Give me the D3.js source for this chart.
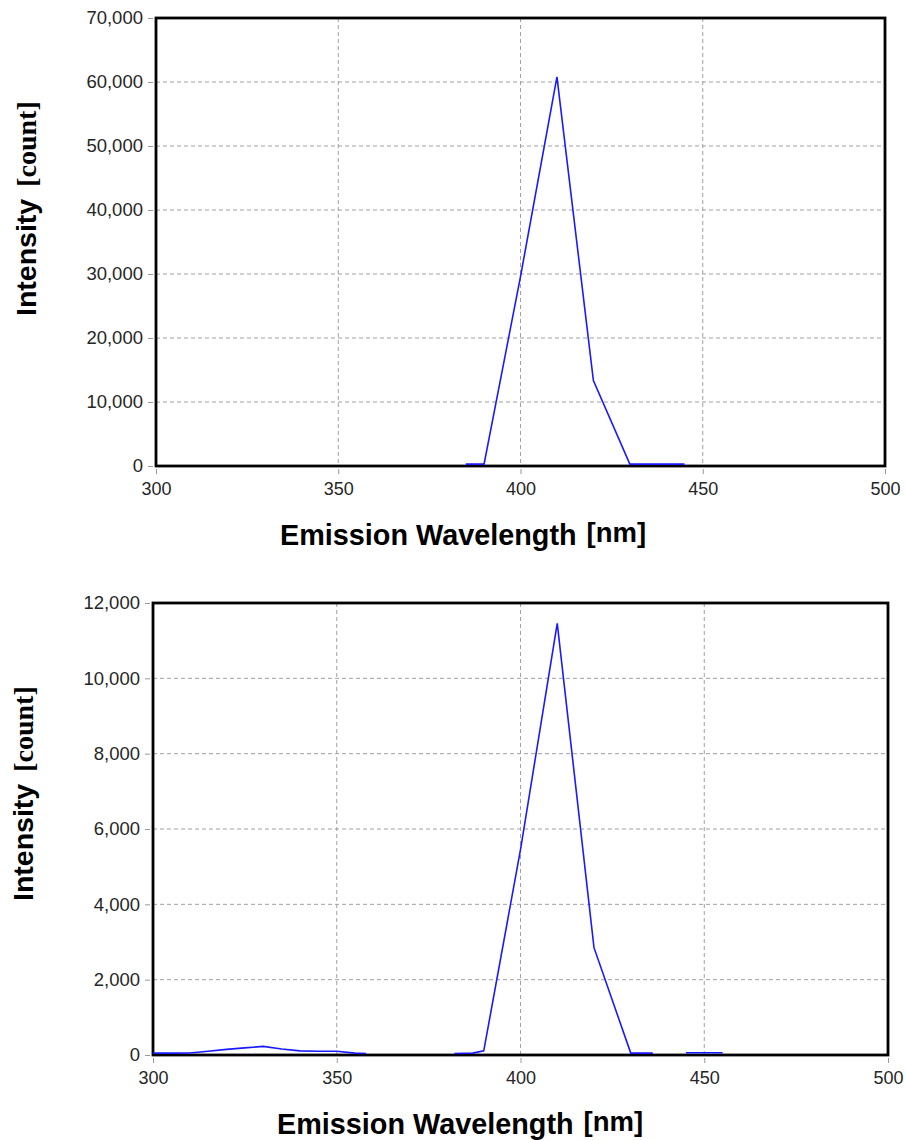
<!DOCTYPE html>
<html>
<head>
<meta charset="utf-8">
<script src="https://cdn.jsdelivr.net/npm/d3@7"></script>
<style>
  body { margin: 0; background: #fff; }
  svg { display: block; }
</style>
</head>
<body>
<div id="chart"></div>
<script>
/* Datos de los dos espectros de emision */

// espectro superior
var wavelengthTop = [385, 390, 400, 410, 420, 430, 445];
var intensityTop  = [300, 300, 29600, 60800, 13350, 300, 300];

// espectro inferior (null = hueco, no hay datos)
var wavelengthBottom = [300, 305, 310, 315, 320, 325, 330, 335, 340, 345, 350, 355, 358,
                        null,
                        382, 387, 390, 400, 410, 420, 430, 436,
                        null,
                        445, 455];
var intensityBottom  = [50, 50, 55, 100, 150, 190, 230, 160, 110, 100, 100, 50, 40,
                        null,
                        40, 50, 110, 5450, 11460, 2850, 50, 50,
                        null,
                        60, 60];

// ejes
var xTicks = [300, 350, 400, 450, 500];
var yTicksTop = [0, 10000, 20000, 30000, 40000, 50000, 60000, 70000];
var yTicksBottom = [0, 2000, 4000, 6000, 8000, 10000, 12000];

var xTitle = "Emission Wavelength";
var xUnit = "[nm]";
var yTitle = "Intensity";
var yUnit = "[count]";

var svg = d3.select("#chart").append("svg")
    .attr("width", 906)
    .attr("height", 1140);

svg.append("rect").attr("width", 906).attr("height", 1140).attr("fill", "#fff");

// convierte arrays en puntos (con huecos)
function toPoints(xs, ys) {
    return xs.map(function(x, i) {
        return x === null ? null : { x: x, y: ys[i] };
    });
}

function graficaEspectro(points, yTicks, box) {
    var g = svg.append("g");

    var x = d3.scaleLinear()
        .domain([xTicks[0], xTicks[xTicks.length - 1]])
        .range([box.left, box.right]);
    var y = d3.scaleLinear()
        .domain([yTicks[0], yTicks[yTicks.length - 1]])
        .range([box.bottom, box.top]);

    // rejilla punteada
    g.selectAll(".gridx")
        .data(xTicks.slice(1, -1))
        .enter().append("line")
        .attr("x1", function(d) { return x(d); })
        .attr("x2", function(d) { return x(d); })
        .attr("y1", box.top)
        .attr("y2", box.bottom)
        .attr("stroke", "#a0a0a0")
        .attr("stroke-width", 1)
        .attr("stroke-dasharray", "4,3");

    g.selectAll(".gridy")
        .data(yTicks.slice(1, -1))
        .enter().append("line")
        .attr("x1", box.left)
        .attr("x2", box.right)
        .attr("y1", function(d) { return y(d); })
        .attr("y2", function(d) { return y(d); })
        .attr("stroke", "#a0a0a0")
        .attr("stroke-width", 1)
        .attr("stroke-dasharray", "4,3");

    // eje y
    var yAxis = g.append("g")
        .attr("transform", "translate(" + (box.left - 3) + ",0)")
        .call(d3.axisLeft(y).tickValues(yTicks).tickFormat(d3.format(",")).tickSize(5).tickPadding(5));
    yAxis.select(".domain").remove();
    yAxis.selectAll(".tick line").attr("stroke", "#999");
    yAxis.selectAll("text")
        .attr("fill", "#262626")
        .style("font-family", "'Liberation Sans', Arial, sans-serif")
        .style("font-size", "18.5px");

    // eje x
    var xAxis = g.append("g")
        .attr("transform", "translate(0," + (box.bottom + 3) + ")")
        .call(d3.axisBottom(x).tickValues(xTicks).tickSize(5).tickPadding(8));
    xAxis.select(".domain").remove();
    xAxis.selectAll(".tick line").attr("stroke", "#999");
    xAxis.selectAll("text")
        .attr("fill", "#262626")
        .style("font-family", "'Liberation Sans', Arial, sans-serif")
        .style("font-size", "18px");

    // marco
    g.append("rect")
        .attr("x", box.left)
        .attr("y", box.top)
        .attr("width", box.right - box.left)
        .attr("height", box.bottom - box.top)
        .attr("fill", "none")
        .attr("stroke", "#000")
        .attr("stroke-width", 2.8);

    // curva
    var line = d3.line()
        .defined(function(d) { return d !== null; })
        .x(function(d) { return x(d.x); })
        .y(function(d) { return y(d.y); });

    g.append("path")
        .datum(points)
        .attr("d", line)
        .attr("fill", "none")
        .attr("stroke", "#1a1aff")
        .attr("stroke-width", 1.6);

    // titulo x
    var tx = g.append("text")
        .attr("x", box.left + 124)
        .attr("y", box.bottom + 79)
        .attr("fill", "#000")
        .style("font-family", "'Liberation Sans', Arial, sans-serif")
        .style("font-weight", "bold")
        .style("font-size", "28.8px");
    tx.append("tspan").text(xTitle);
    tx.append("tspan").attr("dx", 10).attr("dy", -3).style("font-size", "27.5px").text(xUnit);

    // titulo y
    var ty = g.append("text")
        .attr("transform", "translate(" + (box.left - 120) + "," + (box.top + 298) + ") rotate(-90)")
        .attr("fill", "#000")
        .style("font-weight", "bold");
    ty.append("tspan")
        .style("font-family", "'Liberation Sans', Arial, sans-serif")
        .style("font-size", "28.5px")
        .text(yTitle);
    ty.append("tspan")
        .attr("dx", 12)
        .style("font-family", "'Liberation Serif', 'Times New Roman', serif")
        .style("font-size", "28px")
        .text(yUnit);
}

graficaEspectro(toPoints(wavelengthTop, intensityTop), yTicksTop,
    { left: 156, right: 885, top: 18, bottom: 466 });
graficaEspectro(toPoints(wavelengthBottom, intensityBottom), yTicksBottom,
    { left: 153, right: 888, top: 603, bottom: 1055 });
</script>
</body>
</html>
